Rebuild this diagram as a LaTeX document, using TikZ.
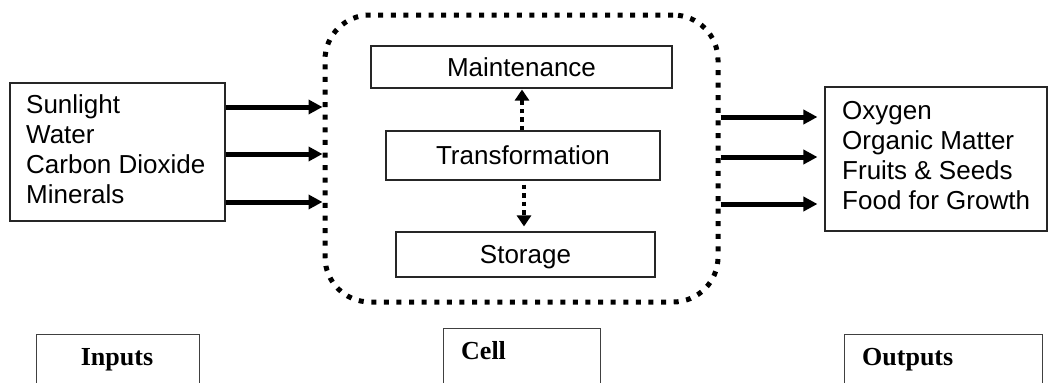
\documentclass[tikz,border=0pt]{standalone}
\usepackage{fontspec}
\setmainfont{Liberation Serif}
\newfontfamily\arialf{Liberation Sans}
\usetikzlibrary{arrows.meta}
\begin{document}
\begin{tikzpicture}[x=1pt,y=-1pt,
  box/.style={draw=black!85,line width=1.1pt,inner sep=0pt},
  sans/.style={font=\arialf\fontsize{26}{30}\selectfont},
  innerbox/.style={box,sans,text height=18.5pt,text depth=0pt},
  lbl/.style={font=\bfseries\fontsize{26}{30}\selectfont,inner sep=0pt},
  bigarrow/.style={line width=5pt,-{Triangle[length=14pt,width=14pt]}},
  dotarrow/.style={line width=4.5pt,dash pattern=on 4.5pt off 4pt,-{Triangle[length=11pt,width=14pt]}},
  cellframe/.style={draw,line width=5pt,dash pattern=on 5pt off 7.6pt,rounded corners=45pt}]
\useasboundingbox (0,0) rectangle (1050,383);
\clip (0,0) rectangle (1050,383);
% input box
\node[box,minimum width=215pt,minimum height=138pt] (inbox) at (117.5,152) {};
\node[sans,align=left,anchor=north west,inner sep=0pt] (intext) at (26,94.5) {Sunlight\\Water\\Carbon Dioxide\\Minerals};
% cell
\node[cellframe,minimum width=393pt,minimum height=287pt] (cell) at (521.5,158.5) {};
\node[innerbox,minimum width=301pt,minimum height=42pt] (maint) at (521.5,67) {Maintenance};
\node[innerbox,minimum width=274pt,minimum height=49pt] (trans) at (523,155.5) {Transformation};
\node[innerbox,minimum width=259pt,minimum height=45pt] (stor) at (525.5,254.5) {Storage};
% output box
\node[box,minimum width=222pt,minimum height=144pt] (outbox) at (936,159) {};
\node[sans,align=left,anchor=north west,inner sep=0pt] (outtext) at (842,101.5) {Oxygen\\Organic Matter\\Fruits \& Seeds\\Food for Growth};
% arrow rows
\coordinate (i1) at (0,107);
\coordinate (i2) at (0,154);
\coordinate (i3) at (0,202);
\coordinate (o1) at (0,117);
\coordinate (o2) at (0,157);
\coordinate (o3) at (0,204);
\coordinate (mx) at (522,0);
\coordinate (sx) at (524,0);
\foreach \r in {i1,i2,i3}
  \draw[bigarrow] (inbox.east |- \r) -- (cell.west |- \r);
\foreach \r in {o1,o2,o3}
  \draw[bigarrow,shorten >=7pt] (cell.east |- \r) -- (outbox.west |- \r);
\draw[dotarrow,shorten >=1pt] (trans.north -| mx) -- (maint.south -| mx);
\draw[dotarrow,shorten <=4pt,shorten >=5pt] (trans.south -| sx) -- (stor.north -| sx);
% bottom labels
\node[box,draw=black!75,minimum width=163pt,minimum height=80pt,anchor=north west] (inlbl) at (36,334) {};
\node[lbl,anchor=base] (inlbltext) at (117,365) {Inputs};
\node[box,draw=black!75,minimum width=157pt,minimum height=80pt,anchor=north west] (celllbl) at (443,328) {};
\node[lbl,anchor=base west] (celllbltext) at (461,359) {Cell};
\node[box,draw=black!75,minimum width=198pt,minimum height=80pt,anchor=north west] (outlbl) at (844,334) {};
\node[lbl,anchor=base west] (outlbltext) at (862,365) {Outputs};
\end{tikzpicture}
\end{document}
